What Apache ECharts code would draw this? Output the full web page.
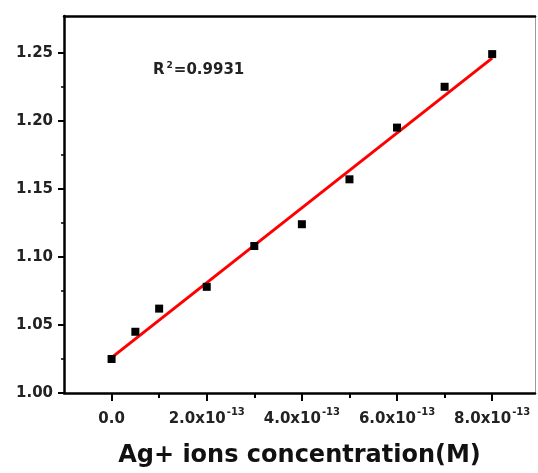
<!DOCTYPE html>
<html><head><meta charset="utf-8">
<script src="https://cdn.jsdelivr.net/npm/echarts@6/dist/echarts.min.js"></script>
<style>html,body{margin:0;padding:0;background:#fff}#c{width:538px;height:473px}</style>
</head><body><div id="c"></div>
<script>
// x values in units of 1e-13 M
var xValues = [0, 0.5, 1, 2, 3, 4, 5, 6, 7, 8];
var yValues = [1.025, 1.045, 1.062, 1.078, 1.108, 1.124, 1.157, 1.195, 1.225, 1.249];
var fitX = [0, 8];
var fitY = [1.026, 1.246];
var xMajorTicks = [0, 2, 4, 6, 8];
var xMinorTicks = [1, 3, 5, 7];
var xTickMantissa = ['0.0', '2.0', '4.0', '6.0', '8.0'];
var xTickExponent = '-13';
var yMajorTicks = [1.00, 1.05, 1.10, 1.15, 1.20, 1.25];
var yMinorTicks = [1.025, 1.075, 1.125, 1.175, 1.225];
var rSquared = '0.9931';

var FONT = '"DejaVu Sans", "Liberation Sans", Arial, sans-serif';
var chart = echarts.init(document.getElementById('c'), null, {renderer: 'canvas'});
var scatterData = xValues.map(function (x, i) { return [x, yValues[i]]; });
var fitData = fitX.map(function (x, i) { return [x, fitY[i]]; });

var gridCfg = {left: 64, right: 3, top: 16, bottom: 80, containLabel: false, outerBoundsMode: 'none'};
var xMin = -1, xMax = 8.9, yMin = 1.0, yMax = 1.277;

var option = {
  animation: false,
  backgroundColor: '#fff',
  grid: gridCfg,
  xAxis: [
    {
      type: 'value', min: xMin, max: xMax, interval: 1, position: 'bottom',
      axisLine: {show: true, onZero: false, lineStyle: {color: '#000', width: 2.5}},
      axisTick: {show: true, length: 8, customValues: xMajorTicks, lineStyle: {color: '#000', width: 2}},
      axisLabel: {
        show: true, margin: 14, customValues: xMajorTicks,
        formatter: function (v) {
          var i = xMajorTicks.indexOf(Math.round(v));
          if (i < 0) return '';
          if (xMajorTicks[i] === 0) return '{m|' + xTickMantissa[i] + '}';
          return '{m|' + xTickMantissa[i] + 'x10}{e|' + xTickExponent + '}';
        },
        rich: {
          m: {fontFamily: FONT, fontWeight: 'bold', fontSize: 15, color: '#222', padding: [5, 0, 0, 0]},
          e: {fontFamily: FONT, fontWeight: 'bold', fontSize: 10, color: '#222', verticalAlign: 'top', padding: [0, 0, 8, 1]}
        }
      },
      splitLine: {show: false},
      name: 'Ag+ ions concentration(M)', nameLocation: 'middle', nameGap: 51,
      nameTextStyle: {fontFamily: FONT, fontWeight: 'bold', fontSize: 24, color: '#111'}
    },
    {
      type: 'value', min: xMin, max: xMax, interval: 1, position: 'bottom',
      axisLine: {show: false, onZero: false},
      axisTick: {show: true, length: 5, customValues: xMinorTicks, lineStyle: {color: '#000', width: 2}},
      axisLabel: {show: false}, splitLine: {show: false}
    },
    {
      type: 'value', min: xMin, max: xMax, interval: 1, position: 'top',
      axisLine: {show: true, onZero: false, lineStyle: {color: '#000', width: 2.5}},
      axisTick: {show: false}, axisLabel: {show: false}, splitLine: {show: false}
    }
  ],
  yAxis: [
    {
      type: 'value', min: yMin, max: yMax, interval: 0.05, position: 'left',
      axisLine: {show: true, onZero: false, lineStyle: {color: '#000', width: 2.5}},
      axisTick: {show: true, length: 6, customValues: yMajorTicks, lineStyle: {color: '#000', width: 2}},
      axisLabel: {
        show: true, margin: 11, customValues: yMajorTicks,
        formatter: function (v) { return v.toFixed(2); },
        fontFamily: FONT, fontWeight: 'bold', fontSize: 15, color: '#222'
      },
      splitLine: {show: false}
    },
    {
      type: 'value', min: yMin, max: yMax, interval: 0.05, position: 'left',
      axisLine: {show: false, onZero: false},
      axisTick: {show: true, length: 3, customValues: yMinorTicks, lineStyle: {color: '#000', width: 1.5}},
      axisLabel: {show: false}, splitLine: {show: false}
    },
    {
      type: 'value', min: yMin, max: yMax, interval: 0.05, position: 'right',
      axisLine: {show: true, onZero: false, lineStyle: {color: '#999', width: 1}},
      axisTick: {show: false}, axisLabel: {show: false}, splitLine: {show: false}
    }
  ],
  graphic: [{
    type: 'text', left: 153, top: 61,
    style: {
      text: '{a|R}{s|2}{a|=' + rSquared + '}',
      rich: {
        a: {fontFamily: FONT, fontWeight: 'bold', fontSize: 15, fill: '#222'},
        s: {fontFamily: FONT, fontWeight: 'bold', fontSize: 9, fill: '#222', verticalAlign: 'top', padding: [0, 1, 9, 2]}
      }
    }
  }],
  series: [
    {
      type: 'line', xAxisIndex: 0, yAxisIndex: 0, data: fitData,
      showSymbol: false, symbol: 'none', z: 2,
      lineStyle: {color: '#ff0000', width: 3}
    },
    {
      type: 'scatter', xAxisIndex: 0, yAxisIndex: 0, data: scatterData,
      symbol: 'rect', symbolSize: 8, z: 3,
      itemStyle: {color: '#000', opacity: 1}
    }
  ]
};
chart.setOption(option);
</script>
</body></html>
